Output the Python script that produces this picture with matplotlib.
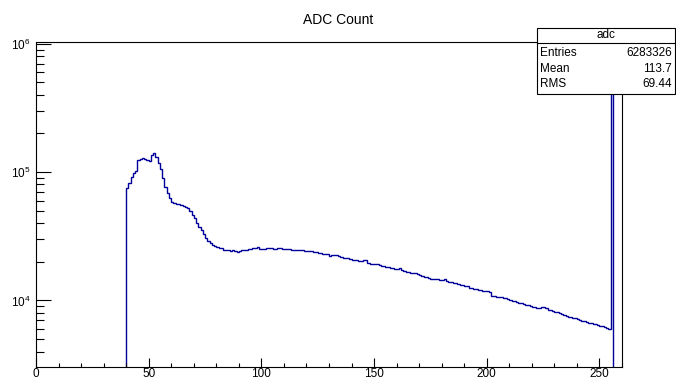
import numpy as np
import matplotlib
matplotlib.use("Agg")
import matplotlib.pyplot as plt
from matplotlib.patches import Rectangle
from matplotlib.ticker import LogLocator, NullFormatter, FixedLocator, MultipleLocator

plt.rcParams['font.family'] = ['Liberation Sans', 'DejaVu Sans']
plt.rcParams['mathtext.default'] = 'regular'

# ---------------- data ----------------
title = "ADC Count"
hist_name = "adc"
n_bins = 260
x_min, x_max = 0, 260
first_bin = 40
# bin contents for bins 40 .. 254
counts_main = [
    74700, 82600, 90900, 98800, 102400, 123300, 125600, 129200, 126200, 124000,   # 40-49
    121800, 135600, 139800, 131500, 116900, 105000, 89300, 76800, 68300, 62400,   # 50-59
    58700, 57100, 56400, 56100, 55400, 54400, 53700, 52200, 50000, 46300,         # 60-69
    43600, 39900, 37500,                                                          # 70-72
    35400, 32900, 30600, 29000, 27900, 27000, 26600, 26200, 25800, 25400,         # 73-82
    24900, 24700, 24700, 24400, 24500, 24300, 24000, 24300, 24700, 24800,         # 83-92
    24900, 25000, 25200, 25500, 25800, 25900, 25200, 25200, 25000, 25400,         # 93-102
    25800, 25400, 25200, 25300, 25400, 25500, 25300, 25000, 25000, 25000,         # 103-112
    24900, 24900, 24700, 24700, 24600, 24500, 24400, 24300, 24200, 24100,         # 113-122
    24000, 23700, 23500, 23300, 23200, 23000, 22900, 22300, 22400, 22500,         # 123-132
    22600, 22100, 21800, 21600, 21400, 21300, 21000, 20800, 20700, 20500,         # 133-142
    20300, 20300, 20500, 20600, 19500, 19400, 19300, 19200, 19100, 18900,         # 143-152
    18700, 18400, 18300, 18200, 18000, 17900, 17700, 17700, 17800, 17300,         # 153-162
    17000, 16800, 16600, 16500, 16400, 16300, 16100, 15800, 15500, 15300,         # 163-172
    15100, 14900, 14800, 14800, 14700, 14600, 14400, 14400, 14700, 14300,         # 173-182
    14000, 13900, 13800, 13600, 13400, 13200, 13200, 13000, 12900, 12600,         # 183-192
    12400, 12300, 12200, 12100, 12000, 11900, 11900, 11800, 11600, 10900,         # 193-202
    10800, 10700, 10600, 10600, 10500, 10400, 10300, 10100, 9960, 9860,           # 203-212
    9730, 9610, 9470, 9340, 9230, 9140, 9060, 8950, 8850, 8770,                   # 213-222
    8700, 8950, 8950, 8660, 8430, 8360, 8290, 8180, 8060, 7950,                   # 223-232
    7850, 7740, 7620, 7480, 7400, 7340, 7270, 7140, 7050, 6960,                   # 233-242
    6890, 6800, 6720, 6650, 6590, 6530, 6440, 6330, 6270, 6190,                   # 243-252
    6110, 5970,                                                                   # 253-254
]
spike_bin = 255
spike_count = 560000

stats_labels = ["Entries", "Mean", "RMS"]
stats_values = ["6283326", "113.7", "69.44"]

x_ticks = [0, 50, 100, 150, 200, 250]
y_ticks = [1e4, 1e5, 1e6]
y_tick_labels = [r"$10^{4}$", r"$10^{5}$", r"$10^{6}$"]
y_lim = (3060, 1.03e6)

# ---------------- build histogram ----------------
counts = np.zeros(n_bins)
counts[first_bin:first_bin + len(counts_main)] = counts_main
counts[spike_bin] = spike_count
edges = np.linspace(x_min, x_max, n_bins + 1)
plot_vals = np.where(counts > 0, counts, y_lim[0] * 0.5)

W, H = 676, 381
fig = plt.figure(figsize=(W / 100, H / 100), dpi=100)
ax = fig.add_axes([36 / W, 1 - 366.5 / H, (622 - 36) / W, (366.5 - 42) / H])

ax.stairs(plot_vals, edges, color="#000099", linewidth=1.0, baseline=None)
ax.set_yscale("log")
ax.set_xlim(x_min, x_max)
ax.set_ylim(*y_lim)

ax.xaxis.set_major_locator(FixedLocator(x_ticks))
ax.xaxis.set_minor_locator(MultipleLocator(10))
ax.set_xticklabels([str(t) for t in x_ticks])
ax.yaxis.set_major_locator(FixedLocator(y_ticks))
ax.set_yticklabels(y_tick_labels)
ax.yaxis.set_minor_locator(LogLocator(base=10, subs=np.arange(2, 10)))
ax.yaxis.set_minor_formatter(NullFormatter())

ax.tick_params(axis="both", which="both", direction="in", top=False, right=False,
               width=0.8, colors="black", labelsize=8.5)
ax.tick_params(axis="y", which="major", length=11, pad=4)
ax.tick_params(axis="y", which="minor", length=5.5)
ax.tick_params(axis="x", which="major", length=6.5, pad=1.2)
ax.tick_params(axis="x", which="minor", length=3.2)
for s in ax.spines.values():
    s.set_linewidth(0.8)
    s.set_color("black")

# title
fig.text(338 / W, 1 - 20 / H, title, ha="center", va="center", fontsize=10)

# stats box
def fx(x):
    return x / W

def fy(y):
    return 1 - y / H

bx0, bx1, by0, by1 = 537, 675, 28, 94
box = Rectangle((fx(bx0), fy(by1)), fx(bx1) - fx(bx0), fy(by0) - fy(by1),
                transform=fig.transFigure, facecolor="white", edgecolor="black",
                linewidth=0.8, zorder=10)
fig.patches.append(box)
fig.add_artist(plt.Line2D([fx(bx0), fx(bx1)], [fy(43), fy(43)], transform=fig.transFigure,
                          color="black", linewidth=0.8, zorder=11))
fig.text(fx((bx0 + bx1) / 2), fy(35.5), hist_name, ha="center", va="center", fontsize=8.5, zorder=12)
row_y = [53, 68.5, 84]
for lab, val, yy in zip(stats_labels, stats_values, row_y):
    fig.text(fx(540), fy(yy), lab, ha="left", va="center", fontsize=8.5, zorder=12)
    fig.text(fx(672), fy(yy), val, ha="right", va="center", fontsize=8.5, zorder=12)

fig.savefig("out.png", dpi=100)
